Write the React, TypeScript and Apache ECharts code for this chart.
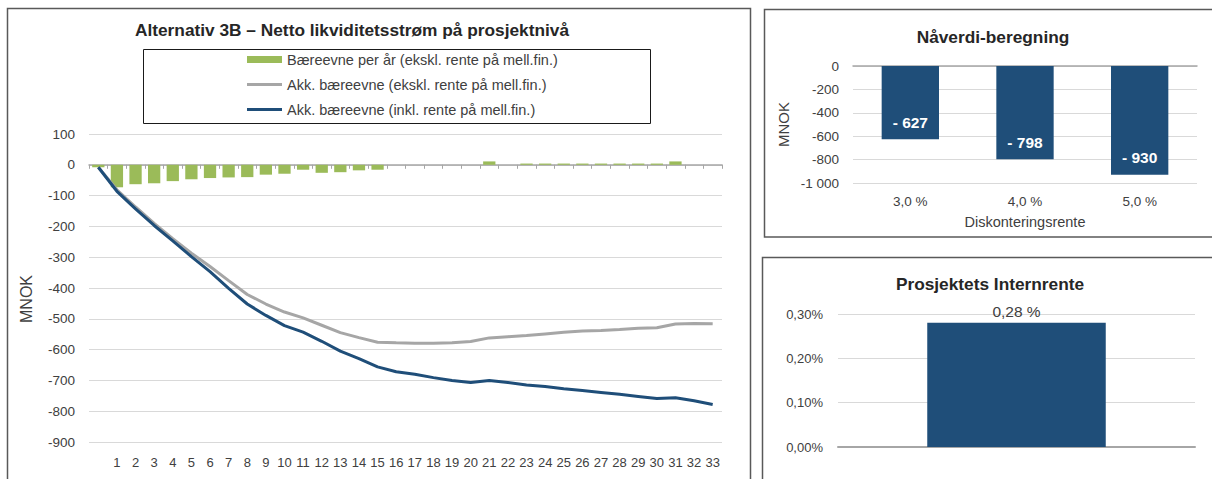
import React, { useEffect, useRef } from "react";
import * as echarts from "echarts";

const years: string[] = ["", "1", "2", "3", "4", "5", "6", "7", "8", "9", "10", "11", "12", "13", "14", "15", "16", "17", "18", "19", "20", "21", "22", "23", "24", "25", "26", "27", "28", "29", "30", "31", "32", "33"];
const perYear: number[] = [-8, -73, -63, -60, -53, -47, -43, -41, -40, -32, -29, -16, -26, -24, -18, -16, 0, 0, 0, 0, 0, 11, 0, 4, 4, 4, 4, 4, 4, 4, 4, 11, 0, 0];
const accExcl: number[] = [-8, -81, -137, -190, -240, -287, -330, -376, -421, -452, -478, -497, -521, -545, -561, -576, -578, -579, -579, -578, -574, -562, -558, -554, -549, -544, -540, -538, -535, -531, -529, -517, -515, -516];
const accIncl: number[] = [-8, -86, -143, -197, -247, -298, -347, -401, -452, -489, -522, -543, -573, -605, -629, -656, -672, -680, -691, -700, -707, -700, -707, -715, -720, -727, -733, -739, -745, -752, -759, -756, -766, -778];

const rates: string[] = ["3,0 %", "4,0 %", "5,0 %"];
const npv: number[] = [-627, -798, -930];

const irrCat: string[] = [""];
const irr: number[] = [0.28];

const legendNames: string[] = [
  "Bæreevne per år (ekskl. rente på mell.fin.)",
  "Akk. bæreevne (ekskl. rente på mell.fin.)",
  "Akk. bæreevne (inkl. rente på mell.fin.)",
];

const FONT = "'Liberation Sans', Arial, sans-serif";
const TXT = "#404040";
const GRID = "#d9d9d9";
const AXIS = "#a6a6a6";
const BLUE = "#1F4E79";
const GREEN = "#9BBB59";
const GREY = "#A6A6A6";
const LINE_ICON = "path://M0,0 L35,0 L35,3 L0,3 Z";

function fmtThousand(v: number): string {
  const s = Math.abs(v).toString().replace(/\B(?=(\d{3})+(?!\d))/g, " ");
  return (v < 0 ? "-" : "") + s;
}

export default function App() {
  const ref = useRef<HTMLDivElement>(null);
  useEffect(() => {
    if (!ref.current) return;
    const chart = echarts.init(ref.current, undefined, { renderer: "svg" });
    const axisLabel = { color: TXT, fontSize: 13, fontFamily: FONT };
    chart.setOption({
      animation: false,
      backgroundColor: "#ffffff",
      textStyle: { fontFamily: FONT },
      grid: [
        { left: 89, top: 134, width: 633, height: 308 },
        { left: 853, top: 66, width: 344, height: 117 },
        { left: 838, top: 314, width: 357, height: 133 },
      ],
      legend: {
        orient: "vertical",
        left: 242,
        top: 47,
        itemWidth: 35,
        itemHeight: 7,
        itemGap: 10,
        symbolKeepAspect: true,
        textStyle: { color: TXT, fontSize: 14.5, fontFamily: FONT },
        data: [
          { name: legendNames[0], icon: "rect" },
          { name: legendNames[1], icon: LINE_ICON },
          { name: legendNames[2], icon: LINE_ICON },
        ],
      },
      xAxis: [
        {
          type: "category", gridIndex: 0, data: years, position: "bottom",
          axisLine: { show: false, onZero: false }, axisTick: { show: false },
          axisLabel: { ...axisLabel, interval: 0, margin: 14 },
        },
        {
          type: "category", gridIndex: 0, data: years, position: "bottom",
          axisLine: { show: true, onZero: true, onZeroAxisIndex: 0, lineStyle: { color: AXIS, width: 1.5 } },
          axisTick: { show: true, interval: 0, length: 4, lineStyle: { color: AXIS } },
          axisLabel: { show: false },
        },
        {
          type: "category", gridIndex: 1, data: rates, position: "bottom",
          axisLine: { show: false, onZero: false }, axisTick: { show: false },
          axisLabel: { ...axisLabel, fontSize: 13.5, margin: 11 },
          name: "Diskonteringsrente", nameLocation: "middle", nameGap: 31,
          nameTextStyle: { color: TXT, fontSize: 14.5, fontFamily: FONT },
        },
        {
          type: "category", gridIndex: 1, data: rates, position: "top",
          axisLine: { show: true, onZero: false, lineStyle: { color: AXIS, width: 1.5 } },
          axisTick: { show: false }, axisLabel: { show: false },
        },
        {
          type: "category", gridIndex: 2, data: irrCat, position: "bottom",
          axisLine: { show: true, onZero: false, lineStyle: { color: AXIS, width: 2 } },
          axisTick: { show: false }, axisLabel: { show: false },
        },
      ],
      yAxis: [
        {
          type: "value", gridIndex: 0, min: -900, max: 100, interval: 100,
          axisLine: { show: false }, axisTick: { show: false },
          axisLabel: { ...axisLabel, fontSize: 13.5, margin: 14 },
          splitLine: { lineStyle: { color: GRID, width: 1 } },
          name: "MNOK", nameLocation: "middle", nameGap: 55,
          nameTextStyle: { color: TXT, fontSize: 16, fontFamily: FONT, padding: [0, 22, 0, 0] },
        },
        {
          type: "value", gridIndex: 1, min: -1000, max: 0, interval: 200,
          axisLine: { show: false }, axisTick: { show: false },
          axisLabel: { ...axisLabel, fontSize: 13.5, margin: 14, formatter: (v: number) => fmtThousand(v) },
          splitLine: { lineStyle: { color: GRID, width: 1 } },
          name: "MNOK", nameLocation: "middle", nameGap: 62,
          nameTextStyle: { color: TXT, fontSize: 15, fontFamily: FONT },
        },
        {
          type: "value", gridIndex: 2, min: 0, max: 0.3, interval: 0.1,
          axisLine: { show: false }, axisTick: { show: false },
          axisLabel: { color: TXT, fontSize: 13, fontFamily: FONT, margin: 15, formatter: (v: number) => v.toFixed(2).replace(".", ",") + "%" },
          splitLine: { lineStyle: { color: GRID, width: 1 } },
        },
      ],
      series: [
        {
          name: legendNames[0], type: "bar", xAxisIndex: 0, yAxisIndex: 0,
          data: perYear, barWidth: "66%", itemStyle: { color: GREEN }, z: 2,
        },
        {
          name: legendNames[1], type: "line", xAxisIndex: 0, yAxisIndex: 0,
          data: accExcl, symbol: "none", lineStyle: { color: GREY, width: 3 }, itemStyle: { color: GREY }, z: 3,
        },
        {
          name: legendNames[2], type: "line", xAxisIndex: 0, yAxisIndex: 0,
          data: accIncl, symbol: "none", lineStyle: { color: BLUE, width: 3 }, itemStyle: { color: BLUE }, z: 4,
        },
        {
          name: "Nåverdi", type: "bar", xAxisIndex: 2, yAxisIndex: 1,
          data: npv, barWidth: "50%", itemStyle: { color: BLUE },
          label: {
            show: true, position: "insideBottom", distance: 9, color: "#ffffff",
            fontSize: 15.5, fontWeight: "bold", fontFamily: FONT,
            formatter: (p: any) => "- " + Math.abs(p.value),
          },
        },
        {
          name: "Internrente", type: "bar", xAxisIndex: 4, yAxisIndex: 2,
          data: irr, barWidth: "50%", itemStyle: { color: BLUE },
          label: {
            show: true, position: "top", distance: 3, color: TXT, fontSize: 15.5, fontFamily: FONT,
            formatter: (p: any) => p.value.toFixed(2).replace(".", ",") + " %",
          },
        },
      ],
      graphic: [
        { type: "rect", shape: { x: 7.5, y: 8.5, width: 743, height: 520 }, style: { fill: "none", stroke: "#595959", lineWidth: 1.5 }, silent: true },
        { type: "rect", shape: { x: 764.5, y: 9.5, width: 520, height: 227.5 }, style: { fill: "none", stroke: "#595959", lineWidth: 1.5 }, silent: true },
        { type: "rect", shape: { x: 762.5, y: 257.5, width: 520, height: 300 }, style: { fill: "none", stroke: "#595959", lineWidth: 1.5 }, silent: true },
        { type: "rect", shape: { x: 143.5, y: 49.5, width: 507, height: 74 }, style: { fill: "none", stroke: "#1a1a1a", lineWidth: 1 }, silent: true },
        { type: "text", x: 352, y: 30, style: { text: "Alternativ 3B – Netto likviditetsstrøm på prosjektnivå", fill: "#262626", fontSize: 17.3, fontWeight: "bold", fontFamily: FONT, align: "center", verticalAlign: "middle" } },
        { type: "text", x: 993, y: 37, style: { text: "Nåverdi-beregning", fill: "#262626", fontSize: 17.3, fontWeight: "bold", fontFamily: FONT, align: "center", verticalAlign: "middle" } },
        { type: "text", x: 990, y: 284, style: { text: "Prosjektets Internrente", fill: "#262626", fontSize: 17.3, fontWeight: "bold", fontFamily: FONT, align: "center", verticalAlign: "middle" } },
      ],
    });
    return () => chart.dispose();
  }, []);
  return <div ref={ref} style={{ position: "absolute", left: 0, top: 0, width: 1212, height: 479, background: "#fff" }} />;
}
